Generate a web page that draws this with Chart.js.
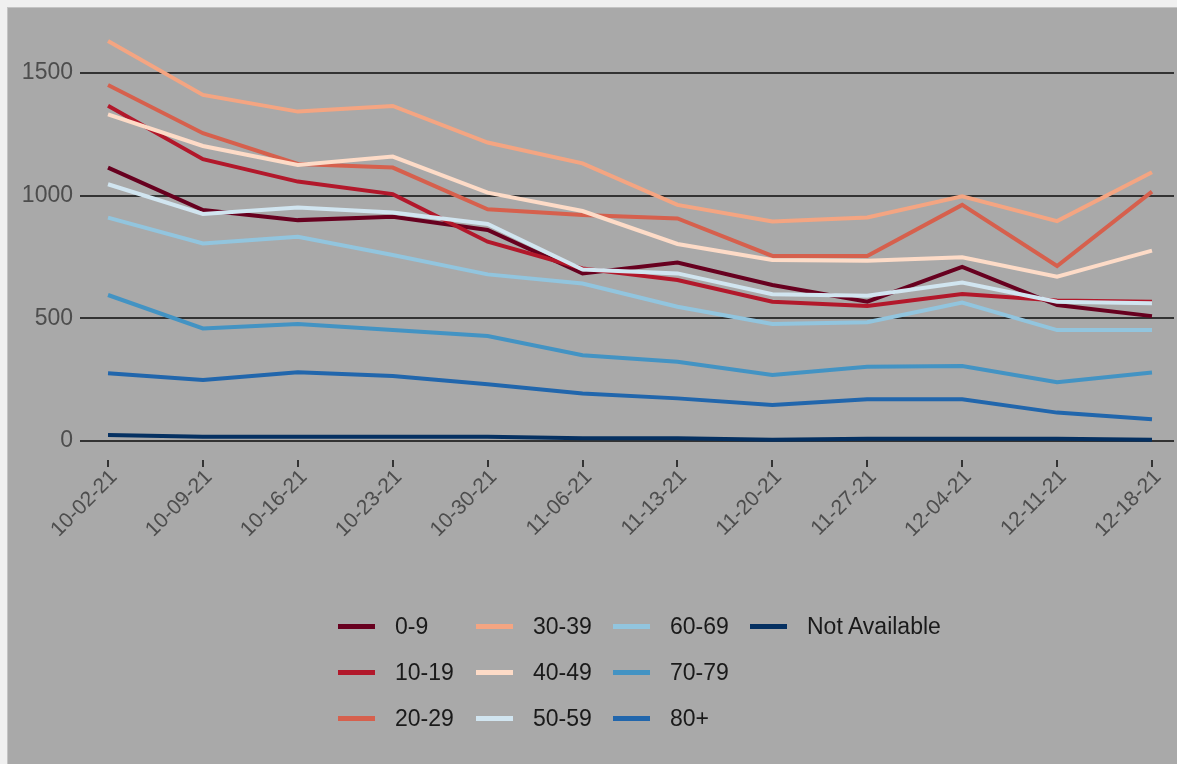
<!DOCTYPE html>
<html>
<head>
<meta charset="utf-8">
<script src="https://cdn.jsdelivr.net/npm/chart.js@4"></script>
<style>
  html, body { margin:0; padding:0; background:#f0f0f0; }
  #wrap { position:relative; width:1177px; height:764px; overflow:hidden; }
  #panel { position:absolute; left:7px; top:7px; right:0; bottom:0; background:#a9a9a9; border-left:1px solid #c4c4c4; border-top:1px solid #c4c4c4; }
  #c { position:absolute; left:0; top:0; }
  #legend { position:absolute; left:338px; top:603px; display:grid; grid-template-rows:46px 46px 46px; grid-auto-flow:column; grid-template-columns:138px 137px 137px 260px; font-family:"Liberation Sans", Arial, sans-serif; font-size:23px; color:#1a1a1a; }
  .item { display:flex; align-items:center; height:46px; white-space:nowrap; }
  .sw { width:37px; height:5px; margin-right:20px; }
</style>
</head>
<body>
<div id="wrap">
  <div id="panel"></div>
  <canvas id="c" width="1177" height="764"></canvas>
  <div id="legend"></div>
</div>
<script>
const categories = ['10-02-21','10-09-21','10-16-21','10-23-21','10-30-21','11-06-21','11-13-21','11-20-21','11-27-21','12-04-21','12-11-21','12-18-21'];
const seriesNames = ['0-9','10-19','20-29','30-39','40-49','50-59','60-69','70-79','80+','Not Available'];
const seriesColors = ['#67001f','#b2182b','#d6604d','#f4a582','#fddbc7','#d1e5f0','#92c5de','#4393c3','#2166ac','#053061'];
const age0_9   = [1114, 941, 900, 914, 860, 683, 727, 636, 568, 710, 554, 509];
const age10_19 = [1366, 1148, 1057, 1006, 812, 703, 656, 568, 550, 599, 573, 568];
const age20_29 = [1450, 1254, 1129, 1114, 944, 921, 907, 754, 754, 962, 713, 1016];
const age30_39 = [1630, 1410, 1342, 1365, 1216, 1131, 962, 894, 911, 997, 896, 1095];
const age40_49 = [1331, 1202, 1125, 1159, 1012, 937, 803, 738, 735, 749, 670, 776];
const age50_59 = [1046, 925, 951, 931, 884, 699, 683, 598, 592, 646, 568, 561];
const age60_69 = [910, 805, 832, 758, 679, 642, 547, 477, 484, 564, 452, 452];
const age70_79 = [595, 459, 477, 452, 428, 350, 323, 269, 303, 306, 240, 279];
const age80p   = [276, 249, 280, 265, 232, 194, 174, 147, 170, 170, 116, 89];
const ageNA    = [25, 18, 18, 18, 18, 12, 12, 5, 10, 10, 10, 5];
const yTicks = [0, 500, 1000, 1500];

const allSeries = [age0_9, age10_19, age20_29, age30_39, age40_49, age50_59, age60_69, age70_79, age80p, ageNA];
const n = allSeries.length;

const datasets = allSeries.map((vals, i) => ({
  label: seriesNames[i],
  data: vals.map((v, j) => ({x: j, y: v})),
  borderColor: seriesColors[i],
  backgroundColor: seriesColors[i],
  borderWidth: 4,
  pointRadius: 0,
  tension: 0,
  fill: false,
  order: n - i
}));

const font = "'Liberation Sans', Arial, sans-serif";

new Chart(document.getElementById('c'), {
  type: 'line',
  data: { datasets },
  options: {
    responsive: false,
    animation: false,
    layout: { padding: { left: 0, top: 21, right: 3, bottom: 0 } },
    plugins: { legend: { display: false }, tooltip: { enabled: false } },
    scales: {
      x: {
        type: 'linear',
        min: -0.232,
        max: categories.length - 1 + 0.232,
        afterBuildTicks: (s) => { s.ticks = categories.map((c, i) => ({ value: i })); },
        afterFit: (s) => { s.height = 304; },
        border: { display: false },
        grid: { drawOnChartArea: false, drawTicks: true, tickLength: 7, color: '#333333', lineWidth: 2 },
        ticks: {
          autoSkip: false,
          minRotation: 45,
          maxRotation: 45,
          padding: -2,
          labelOffset: 6,
          color: '#4d4d4d',
          font: { family: font, size: 21 },
          callback: (v) => categories[v]
        }
      },
      y: {
        min: -77,
        max: 1711,
        afterBuildTicks: (s) => { s.ticks = yTicks.map(v => ({ value: v })); },
        afterFit: (s) => { s.width = 86; },
        border: { display: false },
        grid: { color: '#333333', lineWidth: 2, drawTicks: true, tickLength: 6 },
        ticks: {
          padding: 7,
          color: '#4d4d4d',
          font: { family: font, size: 23 },
          callback: (v) => String(v)
        }
      }
    }
  }
});

const leg = document.getElementById('legend');
seriesNames.forEach((name, i) => {
  const it = document.createElement('div');
  it.className = 'item';
  const sw = document.createElement('span');
  sw.className = 'sw';
  sw.style.background = seriesColors[i];
  const tx = document.createElement('span');
  tx.textContent = name;
  it.appendChild(sw);
  it.appendChild(tx);
  leg.appendChild(it);
});
</script>
</body>
</html>
